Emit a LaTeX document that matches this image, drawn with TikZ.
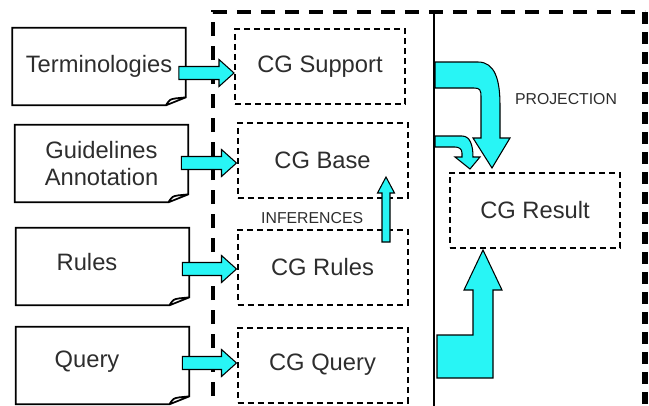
\documentclass[tikz,border=0pt]{standalone}
\usepackage{fontspec}
\setmainfont{Liberation Sans}
\usetikzlibrary{calc}

\definecolor{arrowcyan}{RGB}{40,245,245}
\definecolor{textgray}{RGB}{45,45,45}

\tikzset{
	doc/.style={minimum width=3.46cm, minimum height=1.54cm, inner sep=0pt, align=center, text=textgray, font=\fontsize{13.5}{15}\selectfont},
	doctext/.style={text=textgray, font=\fontsize{13.5}{15}\selectfont},
	cgbox/.style={draw, line width=0.04cm, dash pattern=on 0.12cm off 0.08cm, minimum width=3.4cm, minimum height=1.5cm, text=textgray, font=\fontsize{13.5}{15}\selectfont},
	blk/.style={draw, fill=arrowcyan, line width=0.6pt, line join=miter},
	small/.style={text=textgray, font=\fontsize{9}{10}\selectfont}
}

\begin{document}
\begin{tikzpicture}
	\useasboundingbox (0,0) rectangle (12.98,8.1);

	% Outer frame and separator
	\draw[line width=0.08cm, dash pattern=on 0.28cm off 0.2cm] (4.26,-0.3) -- (4.26,7.86) -- (12.9,7.86);
	\draw[line width=0.12cm, dash pattern=on 0.24cm off 0.16cm] (12.9,7.86) -- (12.9,-0.3);
	\draw[line width=0.8pt] (8.68,7.86) -- (8.68,-0.3);

	% Source documents
	\node[doc] (term) at (1.98, 6.77) {Terminologies};
	\node[doc] (guide) at (2.03, 4.83) {Guidelines\\Annotation};
	\node[doc] (rules) at (2.05, 2.77) {};
	\node[doc] (query) at (2.05, 0.79) {};
	\node[doctext] (rulestext) at (1.74, 2.86) {Rules};
	\node[doctext] (querytext) at (1.74, 0.86) {Query};

	\foreach \d in {term, guide, rules, query}
		\draw[line width=0.35mm] (\d.north west) -- (\d.north east) -- ([yshift=0.16cm]\d.south east) -- ([xshift=-0.4cm]\d.south east) -- (\d.south west) -- cycle
			([xshift=-0.4cm]\d.south east) .. controls ([xshift=-0.32cm, yshift=0.12cm]\d.south east) .. ([xshift=-0.2cm, yshift=0.14cm]\d.south east) -- ([yshift=0.16cm]\d.south east);

	% Conceptual graph boxes
	\node[cgbox] (sup) at (6.4, 6.77) {CG Support};
	\node[cgbox] (base) at (6.45, 4.89) {CG Base};
	\node[cgbox] (crules) at (6.45, 2.76) {CG Rules};
	\node[cgbox] (cquery) at (6.45, 0.8) {CG Query};
	\node[cgbox] (result) at (10.7, 3.9) {CG Result};

	\node[small, anchor=west] (inf) at (5.1, 3.74) {INFERENCES};
	\node[small] (proj) at (11.32, 6.12) {PROJECTION};

	% Block arrows from documents to boxes
	\foreach \a/\b/\s in {term/sup/-0.13, guide/base/-0.05, rules/crules/-0.04, query/cquery/0.04}
		\draw[blk] let \p1 = ([xshift=-0.14cm]\a.east), \p2 = ([yshift=\s cm]\b.west) in
			(\x1, \y2+0.13cm) -- (\x2-0.3cm, \y2+0.13cm) -- (\x2-0.3cm, \y2+0.27cm) -- (\x2, \y2)
			-- (\x2-0.3cm, \y2-0.27cm) -- (\x2-0.3cm, \y2-0.13cm) -- (\x1, \y2-0.13cm) -- cycle;

	% Inference arrow
	\coordinate (upstart) at ([xshift=1.27cm, yshift=-0.27cm]crules.north);
	\coordinate (uptip) at ([xshift=1.27cm, yshift=0.44cm]base.south);
	\draw[blk] let \p1 = (upstart), \p2 = (uptip) in
		(\x1-0.08cm, \y1) -- (\x1-0.08cm, \y2-0.32cm) -- (\x1-0.17cm, \y2-0.32cm) -- (\x2, \y2)
		-- (\x1+0.17cm, \y2-0.32cm) -- (\x1+0.08cm, \y2-0.32cm) -- (\x1+0.08cm, \y1) -- cycle;

	% Projection arrows
	\draw[blk] (8.70,6.86) -- (9.56,6.86) .. controls (9.90,6.86) and (10.00,6.50) .. (10.00,6.00)
		-- (10.00,5.34) -- (10.20,5.34) -- (9.84,4.74) -- (9.46,5.34) -- (9.62,5.34) -- (9.62,6.16)
		.. controls (9.62,6.30) and (9.60,6.34) .. (9.48,6.34) -- (8.70,6.34) -- cycle;
	\draw[blk] (8.70,5.38) -- (9.24,5.38) .. controls (9.40,5.38) and (9.46,5.20) .. (9.46,4.96)
		-- (9.60,4.96) -- (9.40,4.72) -- (9.10,4.96) -- (9.24,4.96) -- (9.24,5.04)
		.. controls (9.24,5.12) and (9.18,5.16) .. (9.10,5.16) -- (8.70,5.16) -- cycle;
	\draw[blk] (8.74,0.54) -- (9.86,0.54) -- (9.86,2.30) -- (10.04,2.30) -- (9.66,3.10)
		-- (9.28,2.30) -- (9.46,2.30) -- (9.46,1.40) -- (8.74,1.40) -- cycle;
\end{tikzpicture}
\end{document}
